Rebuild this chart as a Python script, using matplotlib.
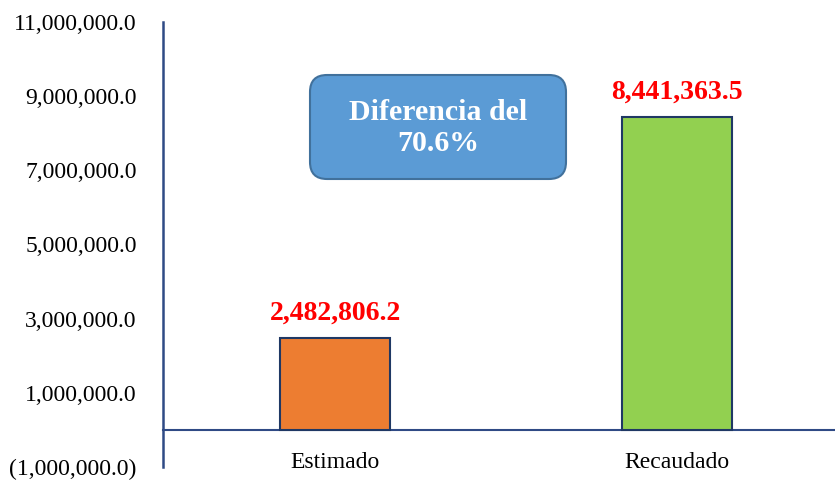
import matplotlib
matplotlib.use("Agg")
import matplotlib.pyplot as plt
from matplotlib.patches import FancyBboxPatch
from matplotlib.ticker import FuncFormatter

categories = ["Estimado", "Recaudado"]
values = [2482806.2, 8441363.5]
bar_colors = ["#ED7D31", "#92D050"]
yticks = [-1000000, 1000000, 3000000, 5000000, 7000000, 9000000, 11000000]
box_text = "Diferencia del\n70.6%"

plt.rcParams['font.family'] = ['Liberation Serif', 'DejaVu Serif']

fig = plt.figure(figsize=(8.35, 4.8), dpi=100)
ax = fig.add_axes([163/835, 13/480, 672/835, 445/480])

x = list(range(len(categories)))
ax.bar(x, values, width=0.322, color=bar_colors, edgecolor="#1F3864", linewidth=1.5, zorder=3)

for xi, v in zip(x, values):
    ax.annotate(f"{v:,.1f}", (xi, v), xytext=(0, 9), textcoords="offset points",
                ha="center", va="bottom", color="#FF0000", fontsize=20, fontweight="bold")

ax.set_xlim(-0.504, 1.464)
ax.set_ylim(-1000000, 11000000)
ax.set_yticks(yticks)

def fmt(v, pos):
    if v < 0:
        return f"({abs(v):,.1f})"
    return f"{v:,.1f}"

ax.yaxis.set_major_formatter(FuncFormatter(fmt))
ax.set_xticks(x)
ax.set_xticklabels(categories)
ax.tick_params(axis="y", length=0, pad=19, labelsize=17)
ax.tick_params(axis="x", length=0, pad=16, labelsize=17)

for s in ["top", "right"]:
    ax.spines[s].set_visible(False)
ax.spines["bottom"].set_position(("data", 0))
ax.spines["bottom"].set_color("#2F4A85")
ax.spines["bottom"].set_linewidth(1.5)
ax.spines["left"].set_color("#2F4A85")
ax.spines["left"].set_linewidth(1.8)

box = FancyBboxPatch((3.10, 3.01), 2.56, 1.04,
                     boxstyle="round,pad=0,rounding_size=0.17",
                     transform=fig.dpi_scale_trans, facecolor="#5B9BD5", edgecolor="#41719C",
                     linewidth=1.5, zorder=4)
fig.add_artist(box)
fig.text(4.38 / 8.35, 3.52 / 4.8, box_text, ha="center", va="center",
         color="white", fontsize=21.5, fontweight="bold", zorder=5, linespacing=1.15)

fig.savefig("out.png", dpi=100)
